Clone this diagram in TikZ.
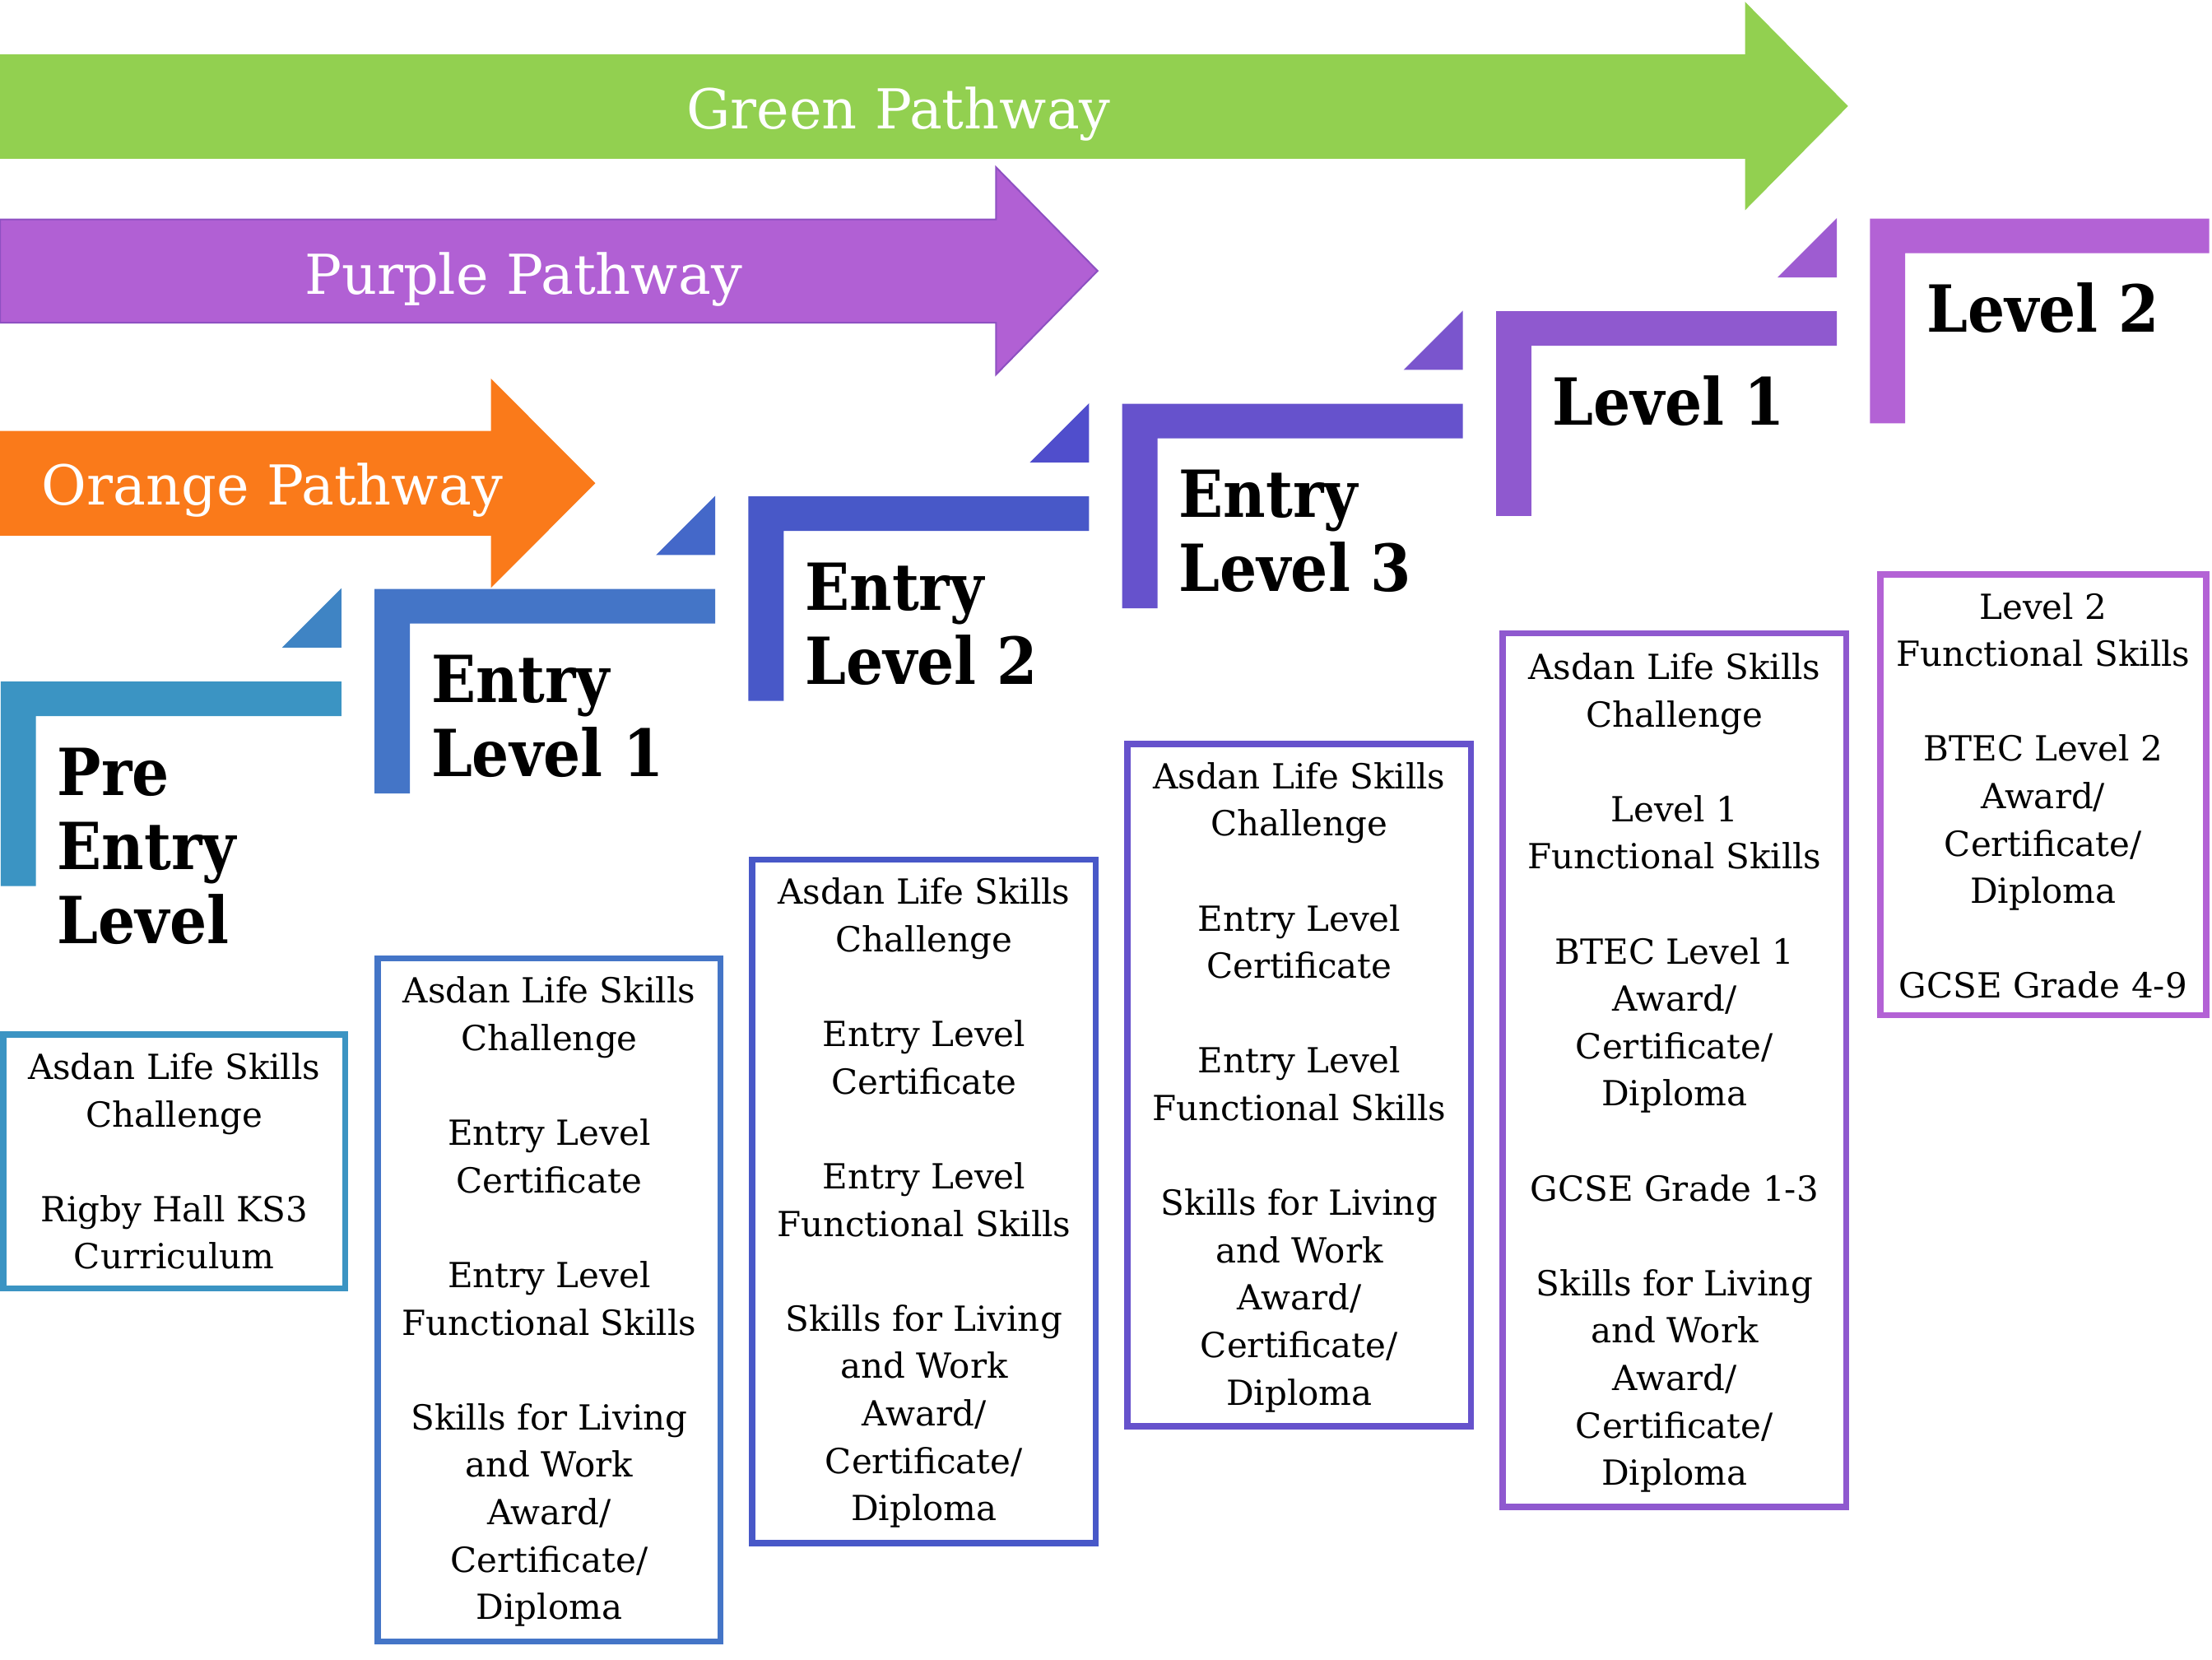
\documentclass[tikz,border=0pt]{standalone}
\usepackage{fontspec}
\setmainfont{DejaVu Serif}
\newfontfamily\labelfont{DejaVu Serif Condensed Bold}
\definecolor{cGreen}{HTML}{92D050}
\definecolor{cPurple}{HTML}{B160D4}
\definecolor{cPurpleEdge}{HTML}{8E50C2}
\definecolor{cOrange}{HTML}{FA7A1A}
\definecolor{sPre}{HTML}{3B94C3}
\definecolor{tPre}{HTML}{3F84C4}
\definecolor{sEa}{HTML}{4475C7}
\definecolor{tEa}{HTML}{4468C9}
\definecolor{sEb}{HTML}{4858C8}
\definecolor{tEb}{HTML}{504ECC}
\definecolor{sEc}{HTML}{6652CC}
\definecolor{tEc}{HTML}{7A55CD}
\definecolor{sLa}{HTML}{8F59CF}
\definecolor{tLa}{HTML}{9E5CD1}
\definecolor{sLb}{HTML}{B362D5}
\tikzset{
  steplabel/.style={anchor=base west, inner sep=0pt, font=\labelfont\fontsize{46}{52.5}\selectfont},
  boxtext/.style={anchor=base, inner sep=0pt, font=\fontsize{24.5}{33.6}\selectfont},
  pathtxt/.style={anchor=base, inner sep=0pt, text=white, font=\fontsize{39}{45}\selectfont},
  qualbox/.style={line width=4.4pt},
}
% step: #1 x, #2 y (top-left of the bar), #3 colour
\newcommand\stepshape[3]{%
  \fill[#3] (#1,#2) -- ++(241.5,0) -- ++(0,24.5) -- ++(-216.5,0) -- ++(0,120.5) -- ++(-25,0) -- cycle;}
\newcommand\steptri[3]{%
  \fill[#3] (#1+241.5,#2-66) -- (#1+241.5,#2-24) -- (#1+199.5,#2-24) -- cycle;}
\begin{document}
\begin{tikzpicture}[x=1pt,y=-1pt]
\useasboundingbox (0,0) rectangle (1568,1176);

% pathway arrows
\fill[cGreen] (0,38.5) -- (1237,38.5) -- (1237,1.3) -- (1310,75.2) -- (1237,149) -- (1237,112.5) -- (0,112.5) -- cycle;
\filldraw[fill=cPurple, draw=cPurpleEdge, line width=1.2pt] (0,155.5) -- (706,155.5) -- (706,118.5) -- (778,192) -- (706,265.5) -- (706,228.7) -- (0,228.7) -- cycle;
\fill[cOrange] (0,305.5) -- (348,305.5) -- (348,268.3) -- (422,342.5) -- (348,416.7) -- (348,379.7) -- (0,379.7) -- cycle;
\node[pathtxt] (green) at (637,91) {Green Pathway};
\node[pathtxt] (purple) at (371,208.4) {Purple Pathway};
\node[pathtxt] (orange) at (193,358) {Orange Pathway};

% steps
\stepshape{0.5}{483}{sPre}     \steptri{0.5}{483}{tPre}
\stepshape{265.5}{417.4}{sEa}  \steptri{265.5}{417.4}{tEa}
\stepshape{530.5}{351.8}{sEb}  \steptri{530.5}{351.8}{tEb}
\stepshape{795.5}{286.2}{sEc}  \steptri{795.5}{286.2}{tEc}
\stepshape{1060.5}{220.6}{sLa} \steptri{1060.5}{220.6}{tLa}
\fill[sLb] (1325.5,155) -- (1566,155) -- (1566,179.5) -- (1350.5,179.5) -- (1350.5,300) -- (1325.5,300) -- cycle;

\node[steplabel] (lpre) at (40.5,563.6) {\begin{tabular}[t]{@{}l@{}}Pre\\Entry\\Level\end{tabular}};
\node[steplabel] (lea) at (305.5,498) {\begin{tabular}[t]{@{}l@{}}Entry\\Level 1\end{tabular}};
\node[steplabel] (leb) at (570.5,432.4) {\begin{tabular}[t]{@{}l@{}}Entry\\Level 2\end{tabular}};
\node[steplabel] (lec) at (835.5,366.8) {\begin{tabular}[t]{@{}l@{}}Entry\\Level 3\end{tabular}};
\node[steplabel] (lla) at (1100.5,301.2) {Level 1};
\node[steplabel] (llb) at (1365.5,235.6) {Level 2};

% qualification boxes
\draw[qualbox, sPre] (2.2,733.2) rectangle (244.8,913.1);
\node[boxtext] (bpre) at (123.5,765) {\begin{tabular}[t]{@{}c@{}}Asdan Life Skills\\Challenge\\ \\Rigby Hall KS3\\Curriculum\end{tabular}};

\draw[qualbox, sEa] (267.8,679.2) rectangle (510.8,1163.4);
\node[boxtext] (bea) at (389.3,711) {\begin{tabular}[t]{@{}c@{}}Asdan Life Skills\\Challenge\\ \\Entry Level\\Certificate\\ \\Entry Level\\Functional Skills\\ \\Skills for Living\\and Work\\Award/\\Certificate/\\Diploma\end{tabular}};

\draw[qualbox, sEb] (533.2,609.2) rectangle (776.8,1093.8);
\node[boxtext] (beb) at (655,641) {\begin{tabular}[t]{@{}c@{}}Asdan Life Skills\\Challenge\\ \\Entry Level\\Certificate\\ \\Entry Level\\Functional Skills\\ \\Skills for Living\\and Work\\Award/\\Certificate/\\Diploma\end{tabular}};

\draw[qualbox, sEc] (799.2,527.2) rectangle (1042.8,1010.8);
\node[boxtext] (bec) at (921,559) {\begin{tabular}[t]{@{}c@{}}Asdan Life Skills\\Challenge\\ \\Entry Level\\Certificate\\ \\Entry Level\\Functional Skills\\ \\Skills for Living\\and Work\\Award/\\Certificate/\\Diploma\end{tabular}};

\draw[qualbox, sLa] (1065.2,448.8) rectangle (1308.8,1068.1);
\node[boxtext] (bla) at (1187,481.5) {\begin{tabular}[t]{@{}c@{}}Asdan Life Skills\\Challenge\\ \\Level 1\\Functional Skills\\ \\BTEC Level 1\\Award/\\Certificate/\\Diploma\\ \\GCSE Grade 1-3\\ \\Skills for Living\\and Work\\Award/\\Certificate/\\Diploma\end{tabular}};

\draw[qualbox, sLb] (1332.8,407.2) rectangle (1563.8,719.5);
\node[boxtext] (blb) at (1448.3,438.7) {\begin{tabular}[t]{@{}c@{}}Level 2\\Functional Skills\\ \\BTEC Level 2\\Award/\\Certificate/\\Diploma\\ \\GCSE Grade 4-9\end{tabular}};
\end{tikzpicture}
\end{document}
